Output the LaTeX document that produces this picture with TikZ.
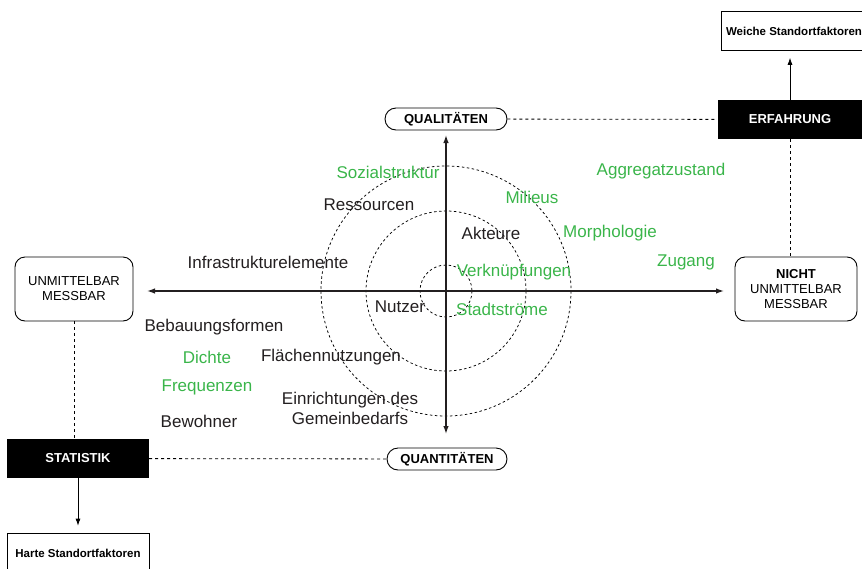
\documentclass[tikz,border=0pt]{standalone}
\usepackage{fontspec}
\setmainfont{Liberation Sans}
\usetikzlibrary{positioning}
\usetikzlibrary{arrows.meta}
\definecolor{labelgreen}{RGB}{58,181,74}
\definecolor{labelgray}{RGB}{35,31,32}

\begin{document}
\begin{tikzpicture}[x=1pt, y=-1pt,
    lbl/.style={font=\fontsize{17}{20}\selectfont, text=labelgray, inner sep=0pt, align=center},
    grn/.style={lbl, text=labelgreen},
    sidebox/.style={draw, rounded corners=10pt, line width=0.9pt, minimum height=64pt, inner sep=0pt, align=center, font=\fontsize{13}{15}\selectfont},
    pill/.style={draw, rounded corners=11pt, line width=0.9pt, minimum height=22pt, inner sep=0pt, font=\bfseries\fontsize{13}{15}\selectfont},
    blackbox/.style={fill=black, text=white, minimum height=39pt, inner sep=0pt, font=\bfseries\fontsize{13}{15}\selectfont},
    factorbox/.style={draw, line width=0.7pt, minimum height=39pt, inner sep=0pt, font=\bfseries\fontsize{11.5}{14}\selectfont},
    axis/.style={draw=labelgray, line width=1.3pt, {Latex[length=8pt,width=5.5pt]}-{Latex[length=8pt,width=5.5pt]}},
    ring/.style={draw, line width=0.75pt, dash pattern=on 2.5pt off 2.5pt},
    link/.style={line width=0.8pt, dash pattern=on 3pt off 3pt},
    flow/.style={line width=0.7pt, -{Latex[length=7pt,width=5pt]}, shorten >=7pt}]
    \useasboundingbox (0,0) rectangle (862,568);

    % rings round the centre
    \coordinate (centre) at (446,291);
    \draw[ring] (centre) circle [radius=26];
    \draw[ring] (centre) circle [radius=80];
    \draw[ring] (centre) circle [radius=125];

    % axes
    \coordinate (axW) at (147,291);
    \coordinate (axE) at (724,291);
    \coordinate (axN) at (446,135);
    \coordinate (axS) at (446,434);
    \draw[axis] (axW) -- (axE);
    \draw[axis] (axN) -- (axS);

    % ends of the axes
    \node[pill, minimum width=122pt] (qual) at (446,119) {QUALITÄTEN};
    \node[pill, minimum width=120pt] (quant) at (447,459) {QUANTITÄTEN};
    \node[sidebox, minimum width=118pt] (messbar) at (74,289) {UNMITTELBAR\\MESSBAR};
    \node[sidebox, minimum width=122pt] (nicht) at (796,289) {\textbf{NICHT}\\UNMITTELBAR\\MESSBAR};

    \node[blackbox, minimum width=145pt] (erfahrung) at (790,119.5) {ERFAHRUNG};
    \node[blackbox, minimum width=142pt] (statistik) at (78,458.5) {STATISTIK};
    \node[factorbox, minimum width=146pt] (weiche) at (794,31) {Weiche Standortfaktoren};
    \node[factorbox, minimum width=142pt, minimum height=40pt] (harte) at (78,553) {Harte Standortfaktoren};

    \draw[link] (qual) -- (erfahrung);
    \draw[link] (statistik) -- (quant);
    \draw[link] (erfahrung.south) -- (erfahrung.south |- nicht.north);
    \draw[link] (messbar.south) -- (messbar.south |- statistik.north);
    \draw[flow] (erfahrung.north) -- (erfahrung.north |- weiche.south);
    \draw[flow] (statistik.south) -- (statistik.south |- harte.north);

    % labels
    \node[grn] (sozial) at (388,172) {Sozialstruktur};
    \node[lbl] (ressourcen) at (369,205) {Ressourcen};
    \node[lbl] (infra) at (268,262) {Infrastrukturelemente};
    \node[lbl] (bebauung) at (214,327) {Bebauungsformen};
    \node[grn] (dichte) at (207,357) {Dichte};
    \node[grn] (frequenzen) at (207,387) {Frequenzen};
    \node[lbl] (bewohner) at (199,421) {Bewohner};
    \node[lbl] (flaechen) at (331,357) {Flächennutzungen};
    \node[lbl] (einrichtungen) at (350,408) {Einrichtungen des\\Gemeinbedarfs};
    \node[lbl] (nutzer) at (400,307) {Nutzer};
    \node[lbl] (akteure) at (491,233) {Akteure};
    \node[grn] (verknuepf) at (514,272) {Verknüpfungen};
    \node[grn] (stroeme) at (502,309) {Stadtströme};
    \node[grn] (milieus) at (532,197) {Milieus};
    \node[grn] (morph) at (610,233) {Morphologie};
    \node[grn] (aggregat) at (661,171) {Aggregatzustand};
    \node[grn] (zugang) at (686,262) {Zugang};
\end{tikzpicture}
\end{document}
